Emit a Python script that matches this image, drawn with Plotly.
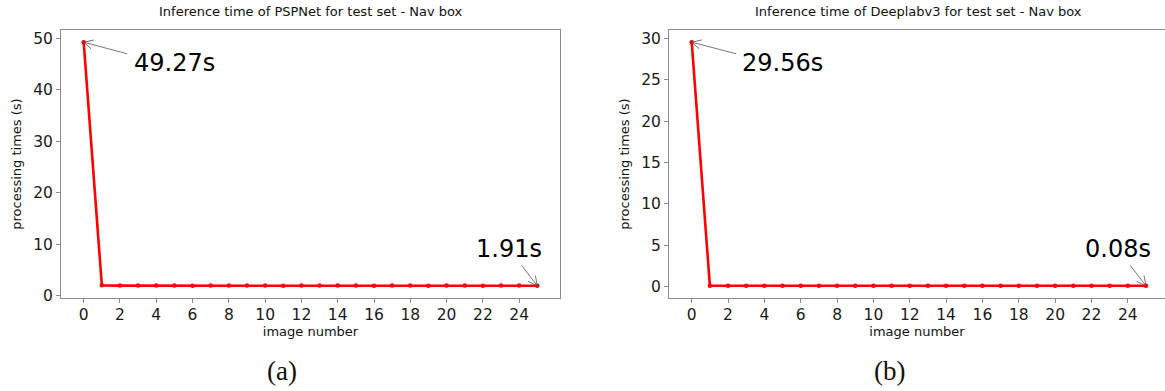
import numpy as np
import plotly.graph_objects as go

W, H = 1165, 391

# image index on the x axis
image_idx = list(range(26))
x_ticks = list(range(0, 25, 2))

# per-image inference times (s)
pspnet_times = [49.27, 2.00, 1.95, 1.95, 1.95, 1.95, 1.92, 1.95, 1.95, 1.95, 1.95, 1.93, 1.95,
                1.95, 1.95, 1.95, 1.93, 1.95, 1.95, 1.93, 1.95, 1.95, 1.93, 1.95, 1.95, 1.91]
deeplab_times = [29.56, 0.10, 0.08, 0.08, 0.08, 0.08, 0.08, 0.08, 0.08, 0.08, 0.08, 0.08, 0.08,
                 0.08, 0.08, 0.08, 0.08, 0.08, 0.08, 0.08, 0.08, 0.08, 0.08, 0.08, 0.08, 0.08]

titles = ["Inference time of PSPNet for test set - Nav box",
          "Inference time of Deeplabv3 for test set - Nav box"]
captions = ["(a)", "(b)"]

FONT = "DejaVu Sans"
SPINE = "#8c8c8c"

fig = go.Figure()

# pixel layout of the two panels
left_px = [(61, 560), (669, 1168.7)]
top_px, bot_px = 30, 298

def pfx(px):
    return px / W

def pfy(py):
    return 1 - py / H

series = [pspnet_times, deeplab_times]
ydticks = [10, 5]

for i, ys in enumerate(series):
    xa = "x" if i == 0 else "x2"
    ya = "y" if i == 0 else "y2"
    fig.add_trace(go.Scatter(
        x=image_idx, y=ys, xaxis=xa, yaxis=ya, mode="lines+markers",
        line=dict(color="#ff0000", width=2.6),
        marker=dict(color="#ff0000", size=4.5),
        showlegend=False, hoverinfo="skip"))

def axis_common():
    return dict(showgrid=False, zeroline=False, showline=True, linecolor=SPINE,
                linewidth=1, ticks="outside", ticklen=4, tickcolor=SPINE, automargin=False,
                tickfont=dict(family=FONT, size=15.5, color="#1a1a1a"))

for i, ys in enumerate(series):
    x0p, x1p = left_px[i]
    lo, hi = min(ys), max(ys)
    pad = 0.05 * (hi - lo)
    yr = [lo - pad, hi + pad]
    xr = [-1.25, 26.25]
    dom_hi = min(x1p, W)
    if x1p > W:
        # panel extends past the right border; clip the range accordingly
        xr[1] = -1.25 + 27.5 * (dom_hi - x0p) / (x1p - x0p)
    xax = axis_common()
    xax.update(domain=[pfx(x0p), pfx(dom_hi)], range=xr, tickmode="array", tickvals=x_ticks,
               anchor="y" if i == 0 else "y2", mirror=True, ticklabelstandoff=-2,
               title=dict(text="image number", font=dict(family=FONT, size=13, color="#111"),
                          standoff=1))
    yax = axis_common()
    yax.update(domain=[pfy(bot_px), pfy(top_px)], range=yr, dtick=ydticks[i], tick0=0,
               anchor="x" if i == 0 else "x2", mirror=(x1p <= W),
               title=dict(text="processing times (s)", font=dict(family=FONT, size=13, color="#111"),
                          standoff=8))
    if i == 0:
        fig.update_layout(xaxis=xax, yaxis=yax)
    else:
        fig.update_layout(xaxis2=xax, yaxis2=yax)

    # panel title
    fig.add_annotation(text=titles[i], xref="paper", yref="paper",
                       x=pfx((x0p + x1p) / 2), y=pfy(11), xanchor="center", yanchor="middle",
                       showarrow=False, font=dict(family=FONT, size=13, color="#111"))
    # caption
    fig.add_annotation(text=captions[i], xref="paper", yref="paper",
                       x=pfx((x0p + x1p) / 2 - 29), y=pfy(371), xanchor="center", yanchor="middle",
                       showarrow=False, font=dict(family="Liberation Serif", size=27, color="#111"))

# value call-outs: (series, index, text offset px, arrow tail offset px, text anchor)
callouts = [
    (0, 0, (48, 21), (45, 12), "left"),
    (0, 25, (-28, -37), (-17, -22), "center"),
    (1, 0, (48, 21), (46, 12), "left"),
    (1, 25, (-28, -37), (-17, -22), "center"),
]
HEAD_LEN, HEAD_ANG = 12, np.deg2rad(27)

for s, idx, (tx, ty), (dx, dy), anchor in callouts:
    xref = "x" if s == 0 else "x2"
    yref = "y" if s == 0 else "y2"
    xv, yv = image_idx[idx], series[s][idx]
    fig.add_annotation(x=xv, y=yv, xref=xref, yref=yref, text=f"{yv:.2f}s",
                       showarrow=False, xshift=tx, yshift=-ty, xanchor=anchor, yanchor="middle",
                       font=dict(family=FONT, size=24, color="#000"))
    # shaft
    fig.add_annotation(x=xv, y=yv, xref=xref, yref=yref, text="", showarrow=True,
                       ax=dx, ay=dy, arrowhead=0, arrowwidth=0.8, arrowcolor="#555")
    # open head
    u = np.array([dx, dy], float)
    u /= np.linalg.norm(u)
    for sgn in (1, -1):
        c, sn = np.cos(sgn * HEAD_ANG), np.sin(sgn * HEAD_ANG)
        hv = HEAD_LEN * np.array([c * u[0] - sn * u[1], sn * u[0] + c * u[1]])
        fig.add_annotation(x=xv, y=yv, xref=xref, yref=yref, text="", showarrow=True,
                           ax=float(hv[0]), ay=float(hv[1]), arrowhead=0, arrowwidth=0.8,
                           arrowcolor="#555")

fig.update_layout(width=W, height=H, margin=dict(l=0, r=0, t=0, b=0),
                  paper_bgcolor="white", plot_bgcolor="white")

fig.write_html("out.html")
